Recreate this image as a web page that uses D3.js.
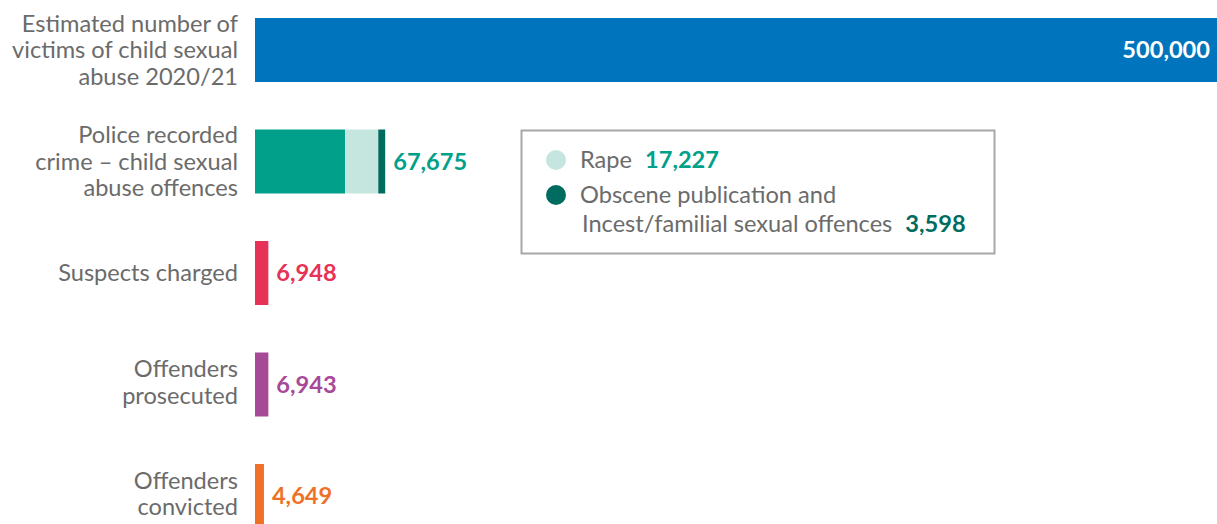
<!DOCTYPE html>
<html><head><meta charset="utf-8">
<script src="https://cdn.jsdelivr.net/npm/d3@7"></script>
<style>
html,body{margin:0;padding:0;background:#fff;}
svg{display:block;font-family:Lato,"Open Sans",sans-serif;}
</style></head>
<body><svg id="c" width="1217" height="524"></svg>
<script>
const categories = ["victims","police","charged","prosecuted","convicted"];
const labelLines = [
  ["Estimated number of","victims of child sexual","abuse 2020/21"],
  ["Police recorded","crime \u2013 child sexual","abuse offences"],
  ["Suspects charged"],
  ["Offenders","prosecuted"],
  ["Offenders","convicted"]
];
const totals = [500000, 67675, 6948, 6943, 4649];
const colors = ["#0075BE","#00A08A","#E63257","#A64A97","#EE7127"];
const policeParts = ["Other","Rape","Obscene"];
const policeValues = [46850, 17227, 3598];
const policeColors = ["#00A08A","#C5E5DF","#006B5F"];
const legendLabels = [["Rape"],["Obscene publication and","Incest/familial sexual offences"]];
const legendValues = [17227, 3598];
const legendValueColors = ["#00A08A","#006B5F"];

const FS = 23.6;
const fmt = d3.format(",");
const svg = d3.select("#c");
const x = d3.scaleLinear().domain([0,500000]).range([255,1217]);
const y = d3.scaleBand().domain(categories).range([18,528]).paddingInner(0.426).paddingOuter(0);

// bars
categories.forEach((c,i)=>{
  if(c==="police"){
    let acc=0;
    policeValues.forEach((v,j)=>{
      svg.append("rect").attr("x",x(acc)).attr("y",y(c)).attr("width",x(acc+v)-x(acc)).attr("height",y.bandwidth()).attr("fill",policeColors[j]);
      acc+=v;
    });
  } else {
    svg.append("rect").attr("x",x(0)).attr("y",y(c)).attr("width",x(totals[i])-x(0)).attr("height",y.bandwidth()).attr("fill",colors[i]);
  }
});

// category labels
const lh = 26.5;
categories.forEach((c,i)=>{
  const lines = labelLines[i];
  const cy = y(c)+y.bandwidth()/2 - (lines.length===2?2.5:0);
  const t = svg.append("text").attr("text-anchor","end").attr("fill","#6b6b6b").attr("font-size",FS);
  lines.forEach((l,k)=>{
    t.append("tspan").attr("x",238).attr("y",cy + (k-(lines.length-1)/2)*lh).attr("dy","0.35em").text(l);
  });
});

// value labels
categories.forEach((c,i)=>{
  const cy = y(c)+y.bandwidth()/2;
  if(i===0){
    svg.append("text").attr("x",x(totals[i])-7).attr("y",cy).attr("dy","0.35em").attr("text-anchor","end")
      .attr("fill","#fff").attr("font-weight",700).attr("font-size",FS).text(fmt(totals[i]));
  } else {
    svg.append("text").attr("x",x(totals[i])+8).attr("y",cy).attr("dy","0.35em")
      .attr("fill",colors[i]).attr("font-weight",700).attr("font-size",FS).text(fmt(totals[i]));
  }
});

// legend
svg.append("rect").attr("x",521.5).attr("y",130.5).attr("width",473).attr("height",123)
  .attr("fill","#fff").attr("stroke","#a8a8a8").attr("stroke-width",2);
const legY = [160, 195];
legendLabels.forEach((lines,j)=>{
  svg.append("circle").attr("cx",556).attr("cy",legY[j]).attr("r",10).attr("fill",policeColors[j+1]);
  const t = svg.append("text").attr("fill","#6b6b6b").attr("font-size",FS);
  lines.forEach((l,k)=>{
    t.append("tspan").attr("x",580+(k>0?2:0)).attr("y",legY[j]+k*29).attr("dy","0.35em").text(l);
  });
  const lastSpan = t.selectAll("tspan").nodes().slice(-1)[0];
  const bb = lastSpan.getComputedTextLength();
  const sx = +d3.select(lastSpan).attr("x");
  svg.append("text").attr("x",sx+bb+13).attr("y",legY[j]+(lines.length-1)*29).attr("dy","0.35em")
    .attr("fill",legendValueColors[j]).attr("font-weight",700).attr("font-size",FS).text(fmt(legendValues[j]));
});
</script></body></html>
